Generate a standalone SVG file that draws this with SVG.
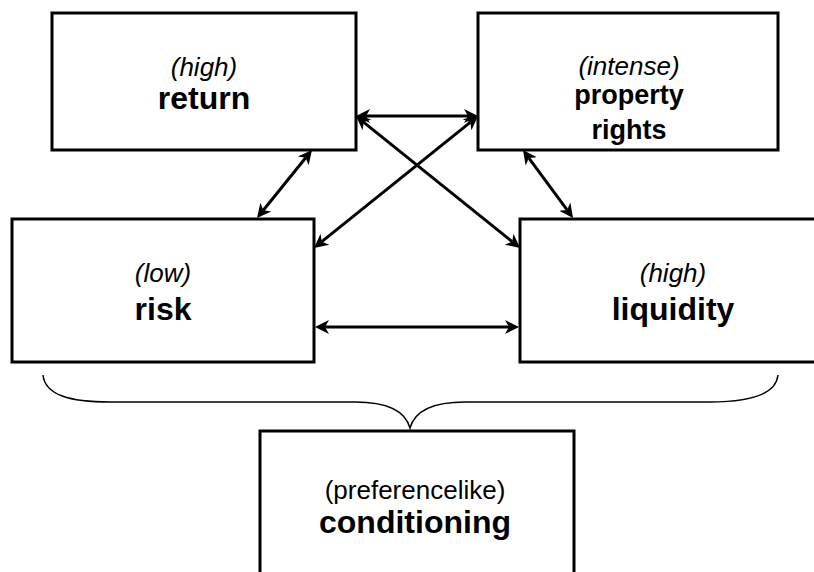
<svg xmlns="http://www.w3.org/2000/svg" width="814" height="572" viewBox="0 0 814 572">
  <style>
    .box { fill: #ffffff; stroke: #000000; stroke-width: 3; }
    .link { stroke: #000000; stroke-width: 3; fill: none; marker-start: url(#head); marker-end: url(#head); }
    .brace { stroke: #000000; stroke-width: 1.5; fill: none; }
    text { font-family: "Liberation Sans", Arial, sans-serif; fill: #000000; text-anchor: middle; }
    .qual { font-style: italic; font-size: 26px; }
    .plain { font-size: 26px; }
    .name { font-weight: bold; font-size: 32px; }
    .name-sm { font-weight: bold; font-size: 27px; }
  </style>
  <defs>
    <marker id="head" markerUnits="userSpaceOnUse" markerWidth="16" markerHeight="16" viewBox="0 -8 16 16" refX="4" refY="0" orient="auto-start-reverse">
      <path d="M0,-7 L14,0 L0,7 L4,0 Z" fill="#000000"/>
    </marker>
  </defs>

  <!-- bidirectional connectors -->
  <g id="connectors">
    <line class="link" x1="366" y1="116" x2="468" y2="116"/>
    <line class="link" x1="305.7" y1="157.8" x2="263.3" y2="210.2"/>
    <line class="link" x1="528.9" y1="158.1" x2="567.1" y2="209.9"/>
    <line class="link" x1="363.8" y1="122.3" x2="512.2" y2="241.7"/>
    <line class="link" x1="470.2" y1="122.3" x2="321.8" y2="241.7"/>
    <line class="link" x1="325" y1="327" x2="509" y2="327"/>
  </g>

  <g id="return">
    <rect class="box" x="52" y="13" width="304" height="137"/>
    <text class="qual" x="204" y="76">(high)</text>
    <text class="name" x="204" y="109">return</text>
  </g>

  <g id="property-rights">
    <rect class="box" x="478" y="13" width="300" height="137"/>
    <text class="qual" x="629" y="75">(intense)</text>
    <text class="name-sm" x="629" y="104">property</text>
    <text class="name-sm" x="629" y="139">rights</text>
  </g>

  <g id="risk">
    <rect class="box" x="12" y="219" width="302" height="143"/>
    <text class="qual" x="163" y="282">(low)</text>
    <text class="name" x="163" y="320">risk</text>
  </g>

  <g id="liquidity">
    <rect class="box" x="520" y="219" width="306" height="143"/>
    <text class="qual" x="673" y="282">(high)</text>
    <text class="name" x="673" y="320">liquidity</text>
  </g>

  <!-- brace gathering risk and liquidity -->
  <path id="brace" class="brace" d="M43,375 C45,395 70,402 110,402 L355,402 C385,402 405,410 410,428 C415,410 435,402 465,402 L710,402 C750,402 776,395 778,375"/>

  <g id="conditioning">
    <rect class="box" x="260" y="431" width="314" height="160"/>
    <text class="plain" x="415" y="499">(preferencelike)</text>
    <text class="name" x="415" y="533">conditioning</text>
  </g>
</svg>
